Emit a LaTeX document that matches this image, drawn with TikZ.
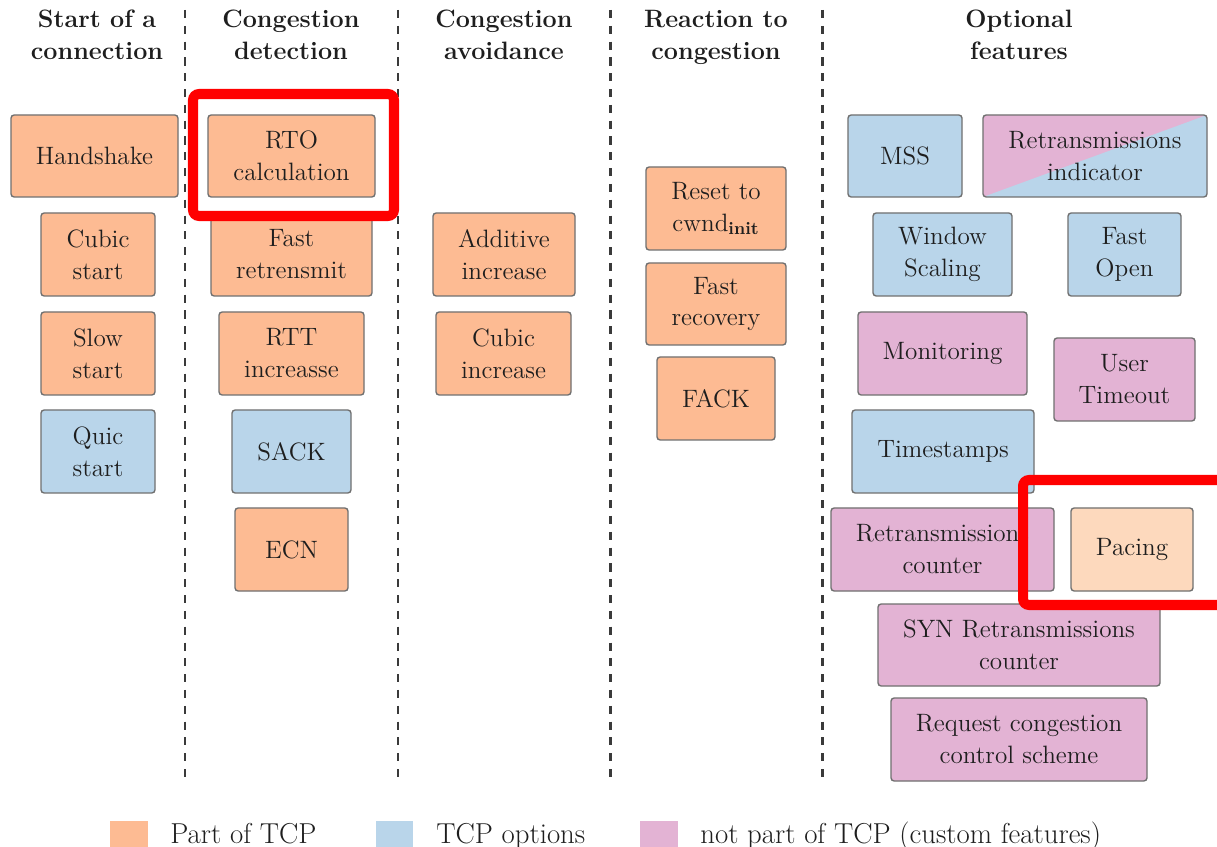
\documentclass[tikz,border=0pt]{standalone}
\def\u{0.02cm}
\definecolor{tcp}{HTML}{FDBB93}
\definecolor{opt}{HTML}{B9D5EA}
\definecolor{cust}{HTML}{E3B3D4}
\definecolor{pace}{HTML}{FDD9BD}
\definecolor{edge}{HTML}{707070}
\definecolor{sep}{HTML}{3A3A3A}
\definecolor{ink}{HTML}{1E1E1E}
\tikzset{
  feat/.style={draw=edge, line width=0.8pt, rounded corners=1.8pt, align=center,
    inner sep=0pt, text=ink, font=\fontsize{14.3}{18.2}\selectfont},
  head/.style={align=center, inner sep=0pt, anchor=north, text=ink,
    font=\fontsize{14.3}{18.2}\selectfont\bfseries},
  legtext/.style={anchor=base west, inner sep=0pt, text=ink, font=\fontsize{16.4}{19}\selectfont},
  colsep/.style={draw=sep, line width=1.7pt, dash pattern=on 4.6pt off 4.4pt},
  focus/.style={draw=red, line width=5.7pt, rounded corners=3.5pt}
}
% box given by its corners (x1,y1) (x2,y2) in pixel units, y downwards
\newcommand\featbox[7]{\node[feat, #2, minimum width={(#5-#3)*\u}, minimum height={(#6-#4)*\u}]
  (#1) at ({(#3+#5)/2},{(#4+#6)/2}) {#7};}
\begin{document}
\begin{tikzpicture}[x=0.02cm, y=-0.02cm]
\fill[white] (0,0) rectangle (1217,847);
\clip (0,0) rectangle (1217,847);

% column headings
\node[head] (h1) at (97,10) {Start of a\\connection};
\node[head] (h2) at (291,10) {Congestion\\detection};
\node[head] (h3) at (504,10) {Congestion\\avoidance};
\node[head] (h4) at (716,10) {Reaction to\\congestion};
\node[head] (h5) at (1019,10) {Optional\\features};

% column separators
\foreach \xs/\nm in {185/a, 398/b, 610/c, 822/d}{
  \coordinate (s\nm top) at (\xs,10);
  \coordinate (s\nm bot) at (\xs,782);
  \draw[colsep] (s\nm top) -- (s\nm bot);
}

% start of a connection
\featbox{hs}{fill=tcp}{11}{115}{178}{197}{Handshake}
\featbox{cs}{fill=tcp}{41}{213}{155}{296}{Cubic\\start}
\featbox{ss}{fill=tcp}{41}{312}{155}{395}{Slow\\start}
\featbox{qs}{fill=opt}{41}{410}{155}{493}{Quic\\start}

% congestion detection
\featbox{rto}{fill=tcp}{208}{115}{375}{197}{RTO\\calculation}
\featbox{fr}{fill=tcp}{211}{213}{372}{296}{Fast\\retrensmit}
\featbox{rtt}{fill=tcp}{219}{312}{364}{395}{RTT\\increasse}
\featbox{sack}{fill=opt}{232}{410}{351}{493}{SACK}
\featbox{ecn}{fill=tcp}{235}{508}{348}{591}{ECN}

% congestion avoidance
\featbox{ai}{fill=tcp}{433}{213}{575}{296}{Additive\\increase}
\featbox{ci}{fill=tcp}{436}{312}{571}{395}{Cubic\\increase}

% reaction to congestion
\featbox{rst}{fill=tcp}{646}{167}{786}{250}{Reset to\\cwnd\textsubscript{\textbf{init}}}
\featbox{frec}{fill=tcp}{646}{263}{786}{345}{Fast\\recovery}
\featbox{fack}{fill=tcp}{657}{357}{775}{440}{FACK}

% optional features
\featbox{mss}{fill=opt}{848}{115}{962}{197}{MSS}
\featbox{ri}{fill=cust, path picture={\fill[opt] (path picture bounding box.south west)
   -- (path picture bounding box.north east) -- (path picture bounding box.south east) -- cycle;}}
   {983}{115}{1207}{197}{Retransmissions\\indicator}
\featbox{ws}{fill=opt}{873}{213}{1012}{296}{Window\\Scaling}
\featbox{fo}{fill=opt}{1068}{213}{1181}{296}{Fast\\Open}
\featbox{mon}{fill=cust}{858}{312}{1027}{395}{Monitoring}
\featbox{ut}{fill=cust}{1054}{338}{1195}{421}{User\\Timeout}
\featbox{ts}{fill=opt}{852}{410}{1034}{493}{Timestamps}
\featbox{rc}{fill=cust}{831}{508}{1054}{591}{Retransmissions\\counter}
\featbox{pac}{fill=pace}{1071}{508}{1193}{591}{Pacing}
\featbox{syn}{fill=cust}{878}{604}{1160}{686}{SYN Retransmissions\\counter}
\featbox{req}{fill=cust}{891}{698}{1147}{781}{Request congestion\\control scheme}

% highlight frames
\draw[focus] (193,94) rectangle (394,216);
\draw[focus] (1023,480) rectangle (1235,605);

% legend
\fill[tcp] (110,821) rectangle (148,850);
\node[legtext] (l1) at (170,843) {Part of TCP};
\fill[opt] (376,821) rectangle (413,850);
\node[legtext] (l2) at (436,843) {TCP options};
\fill[cust] (640,821) rectangle (678,850);
\node[legtext] (l3) at (700,843) {not part of TCP (custom features)};
\end{tikzpicture}
\end{document}
